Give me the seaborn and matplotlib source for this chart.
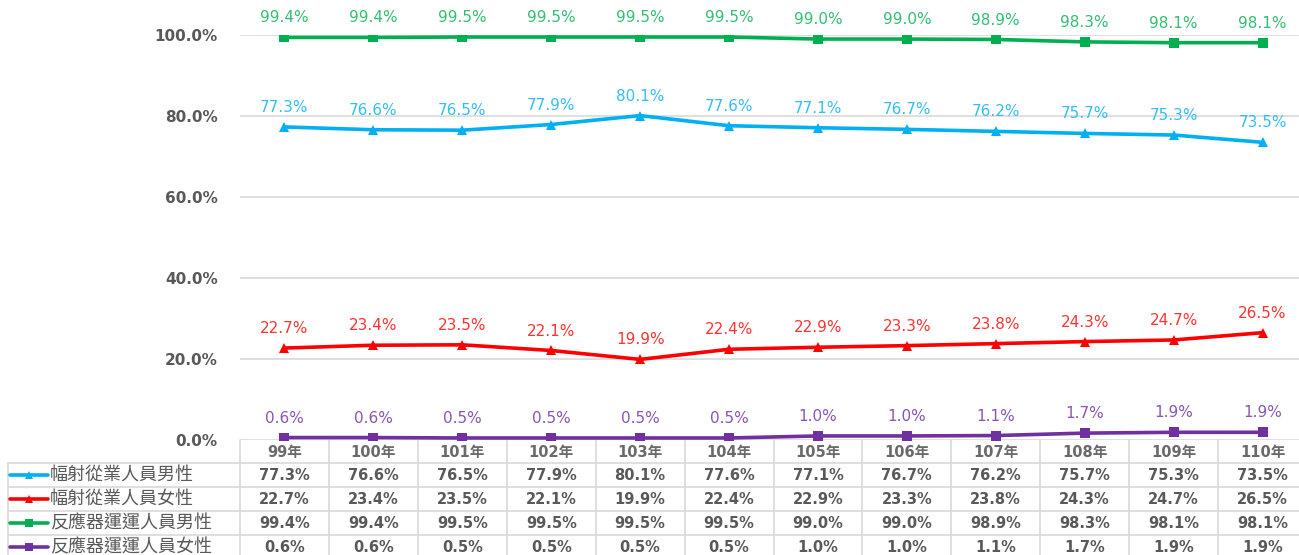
import matplotlib
matplotlib.use("Agg")
import matplotlib.pyplot as plt
import matplotlib.transforms as mtrans
import seaborn as sns
import pandas as pd
import numpy as np

years = ["99年", "100年", "101年", "102年", "103年", "104年", "105年", "106年", "107年", "108年", "109年", "110年"]
series_names = ["幅射從業人員男性", "幅射從業人員女性", "反應器運運人員男性", "反應器運運人員女性"]
rad_male = [77.3, 76.6, 76.5, 77.9, 80.1, 77.6, 77.1, 76.7, 76.2, 75.7, 75.3, 73.5]
rad_female = [22.7, 23.4, 23.5, 22.1, 19.9, 22.4, 22.9, 23.3, 23.8, 24.3, 24.7, 26.5]
reac_male = [99.4, 99.4, 99.5, 99.5, 99.5, 99.5, 99.0, 99.0, 98.9, 98.3, 98.1, 98.1]
reac_female = [0.6, 0.6, 0.5, 0.5, 0.5, 0.5, 1.0, 1.0, 1.1, 1.7, 1.9, 1.9]
yticks = [0.0, 0.2, 0.4, 0.6, 0.8, 1.0]

all_values = [rad_male, rad_female, reac_male, reac_female]
colors = ["#00B0F0", "#FF0000", "#00B050", "#7030A0"]
label_colors = ["#33BFF3", "#FF3333", "#33BF73", "#8A55B5"]
markers = ["^", "^", "s", "s"]

sns.set_theme(style="white")
plt.rcParams['font.family'] = ['DejaVu Sans', 'Noto Sans CJK TC']

rows = []
for name, vals in zip(series_names, all_values):
    for i, v in enumerate(vals):
        rows.append({"idx": i, "year": years[i], "series": name, "value": v / 100.0})
df = pd.DataFrame(rows)

W, H = 1299, 555
fig = plt.figure(figsize=(W / 100, H / 100), dpi=100)
fig.patch.set_facecolor("white")

# main axes: left 240px, 0% at y=440, 100% at y=35
ax = fig.add_axes([240 / W, (H - 440) / H, 1067 / W, 405 / H])
ax.set_facecolor("none")

grid_c = "#D9D9D9"
for yv in yticks:
    ax.axhline(yv, color=grid_c, lw=1.2, zorder=0)

sns.lineplot(data=df, x="idx", y="value", hue="series", style="series",
             hue_order=series_names, style_order=series_names,
             palette=dict(zip(series_names, colors)),
             markers=dict(zip(series_names, markers)), dashes=False,
             linewidth=2.6, markersize=7, markeredgewidth=0, legend=False, ax=ax, zorder=3)

for name, vals, c in zip(series_names, all_values, label_colors):
    for i, v in enumerate(vals):
        ax.annotate(f"{v:.1f}%", (i, v / 100.0), xytext=(0, 14), textcoords="offset points",
                    ha="center", va="center", fontsize=11, color=c, clip_on=False, zorder=5)

ax.set_xlim(-0.5, 11.5)
ax.set_ylim(0, 1.0)
ax.set_yticks(yticks)
ax.set_yticklabels([f"{v*100:.1f}%" for v in yticks], fontsize=11, fontweight="bold", color="#595959")
ax.tick_params(axis="y", length=0, pad=16)
ax.set_xticks([])
ax.set_xlabel("")
ax.set_ylabel("")
for s in ax.spines.values():
    s.set_visible(False)

# table overlay in pixel coordinates (y from top)
tab = fig.add_axes([0, 0, 1, 1], zorder=-1)
tab.set_xlim(0, W)
tab.set_ylim(H, 0)
tab.axis("off")
btr = mtrans.blended_transform_factory(ax.transData, tab.transData)

tc = "#595959"
header_y = 452
row_y = [475, 499, 523, 547]
hlines = [463, 487, 511, 535]
for y in hlines:
    tab.plot([8, W], [y, y], color=grid_c, lw=1.2)
tab.plot([8, 8], [463, H], color=grid_c, lw=1.2)
for b in np.arange(len(years) + 1) - 0.5:
    tab.plot([b, b], [440, H], color=grid_c, lw=1.2, transform=btr)

for i, yr in enumerate(years):
    tab.text(i, header_y, yr, transform=btr, ha="center", va="center",
             fontsize=10.5, fontweight="semibold", color="#6a6a6a")

for r, (name, vals, c, m) in enumerate(zip(series_names, all_values, colors, markers)):
    y = row_y[r]
    for i, v in enumerate(vals):
        tab.text(i, y, f"{v:.1f}%", transform=btr, ha="center", va="center",
                 fontsize=10.5, fontweight="bold", color=tc)
    tab.plot([10, 48], [y, y], color=c, lw=2.6)
    tab.plot([29], [y], marker=m, color=c, markersize=6, markeredgewidth=0)
    tab.text(50, y, name, ha="left", va="center", fontsize=13, color=tc,
             family=['Noto Sans CJK TC', 'DejaVu Sans'])

fig.savefig("out.png", dpi=100, facecolor="white")
